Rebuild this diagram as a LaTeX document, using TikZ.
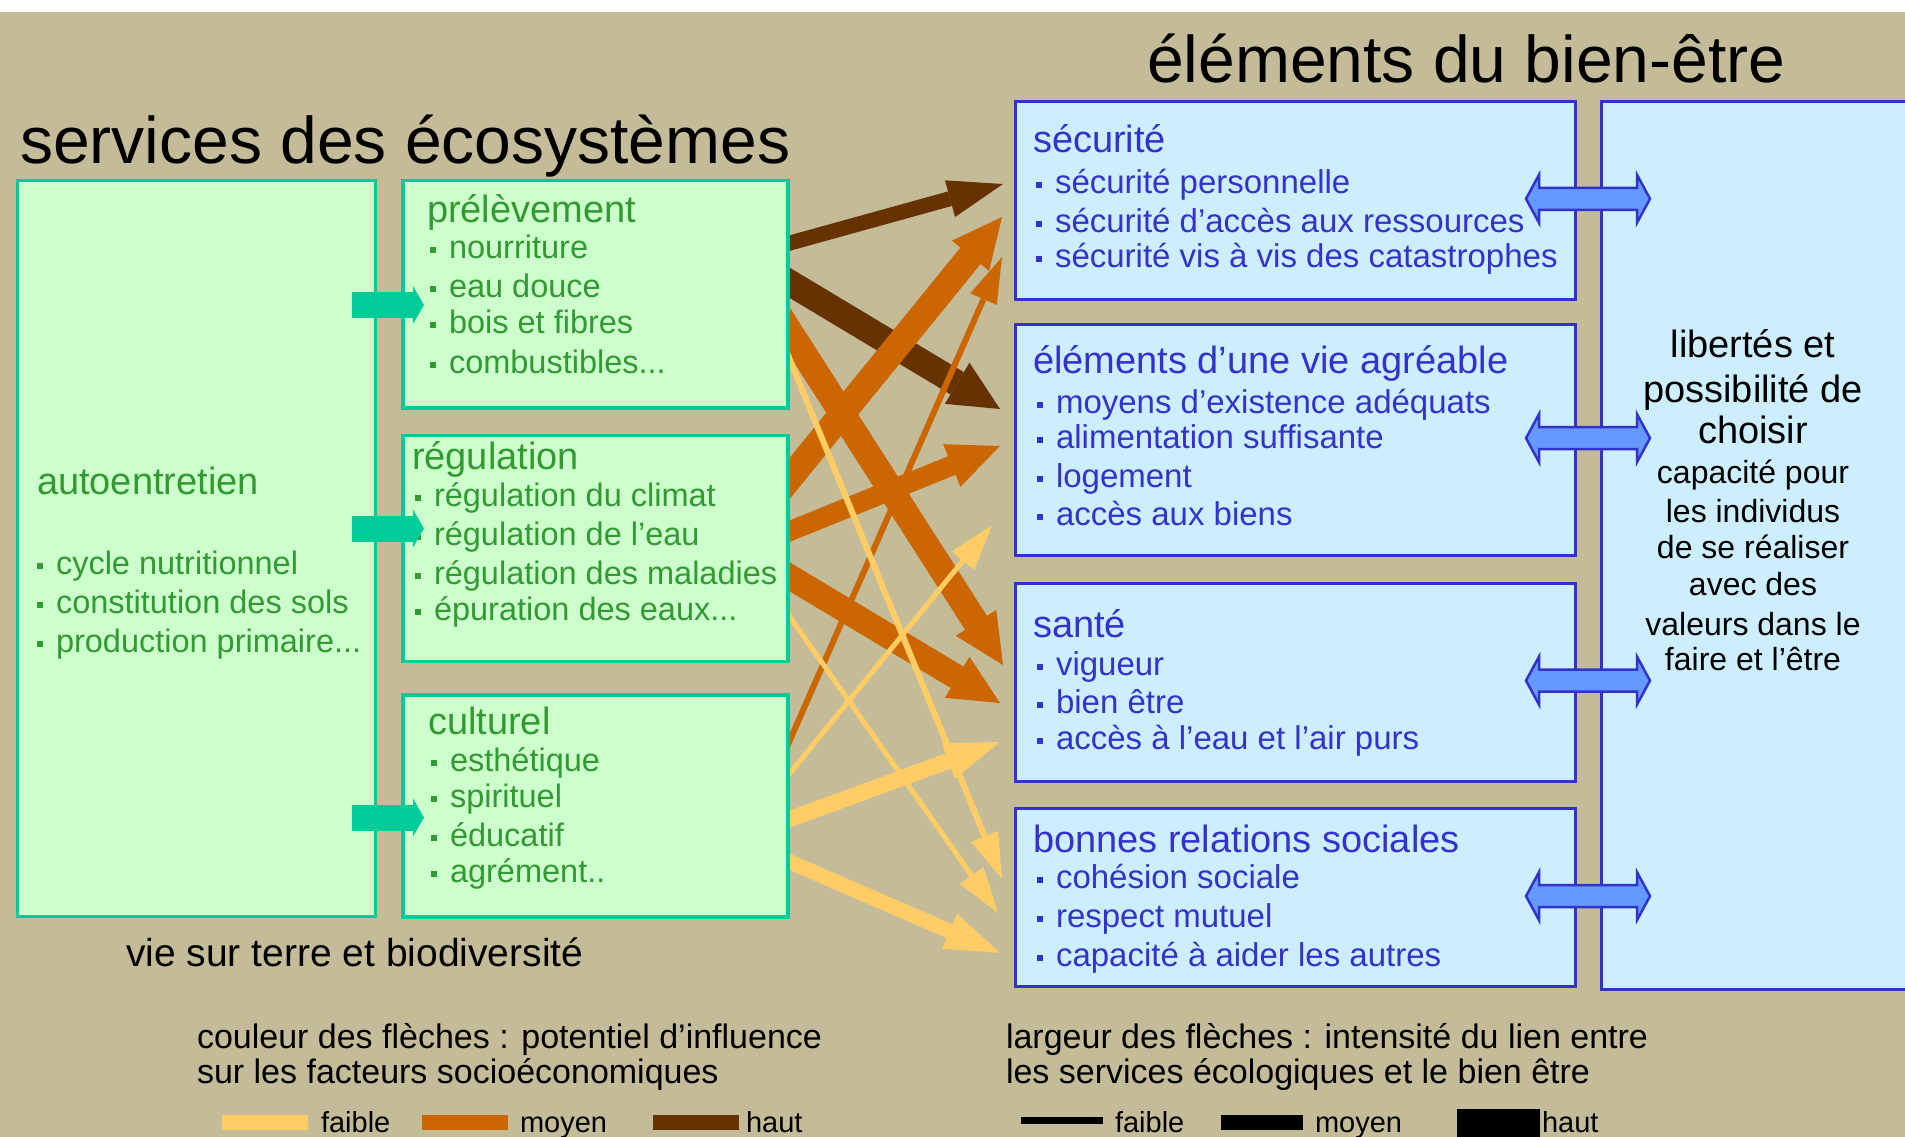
\documentclass[tikz,border=0pt]{standalone}
\usepackage{fontspec}
\setmainfont{Liberation Sans}
\usetikzlibrary{arrows.meta,calc}
\definecolor{bgtan}{HTML}{C4BC98}
\definecolor{gfill}{HTML}{CCFFCC}
\definecolor{tealb}{HTML}{00CC99}
\definecolor{gtext}{HTML}{339933}
\definecolor{bfill}{HTML}{CCEEFF}
\definecolor{bline}{HTML}{3333CC}
\definecolor{darrow}{HTML}{6699FF}
\definecolor{cdark}{HTML}{663300}
\definecolor{cmid}{HTML}{CC6600}
\definecolor{clight}{HTML}{FFCC66}
\newcommand\itm[1]{\llap{\rule[5pt]{6pt}{6pt}\hspace{13pt}}#1}
\tikzset{
  gbox/.style={draw=tealb, fill=gfill, line width=3.5pt, inner sep=0pt, outer sep=0pt, anchor=north west},
  bbox/.style={draw=bline, fill=bfill, line width=3pt, inner sep=0pt, outer sep=0pt, anchor=north west},
  txt/.style={inner sep=0pt, outer sep=0pt, anchor=base west},
  bigtitle/.style={txt, font=\fontsize{66}{76}\selectfont},
  gtitle/.style={txt, text=gtext, font=\fontsize{38}{44}\selectfont},
  gitem/.style={txt, text=gtext, font=\fontsize{32.5}{38}\selectfont},
  btitle/.style={txt, text=bline, font=\fontsize{38}{44}\selectfont},
  bitem/.style={txt, text=bline, font=\fontsize{33}{38}\selectfont},
  rbig/.style={inner sep=0pt, anchor=base, font=\fontsize{38}{44}\selectfont},
  rsmall/.style={inner sep=0pt, anchor=base, font=\fontsize{32}{38}\selectfont},
  legtxt/.style={txt, font=\fontsize{34}{40}\selectfont},
  leglab/.style={txt, font=\fontsize{29}{34}\selectfont},
  flow/.style={line cap=butt, line join=miter},
  thickarr/.style={flow, line width=26pt, -{Triangle[width=48pt,length=50pt,line width=0pt]}},
  medarr/.style={flow, line width=15pt, -{Triangle[width=38pt,length=55pt,line width=0pt]}},
  thinarr/.style={flow, line width=6pt, -{Triangle[width=29pt,length=46pt,line width=0pt]}},
  tarr/.style={draw=tealb, line cap=butt, line width=26pt, -{Triangle[width=38pt,length=11pt,line width=0pt]}},
  dbl/.style={draw=bline, fill=darrow, line width=2.5pt, line join=miter}
}
\begin{document}
\begin{tikzpicture}[x=1pt,y=-1pt]
\useasboundingbox (0,0) rectangle (1905,1137);
\clip (0,0) rectangle (1905,1137);
\fill[white] (0,0) rectangle (1905,12);
\fill[bgtan] (0,12) rectangle (1905,1137);

% ---------- flow arrows (drawn first, boxes cover their tails)
\coordinate (sA) at (790,243); \coordinate (tA) at (1003,184);
\coordinate (sB) at (790,283); \coordinate (tB) at (1000,409);
\coordinate (sC) at (790,478); \coordinate (tC) at (1002,217);
\coordinate (sD) at (790,740); \coordinate (tD) at (1002,257);
\coordinate (sE) at (790,332); \coordinate (tE) at (1003,665);
\coordinate (sF) at (790,531); \coordinate (tF) at (1000,446);
\coordinate (sG) at (790,577); \coordinate (tG) at (1000,703);
\coordinate (sH) at (790,360); \coordinate (tH) at (1002,879);
\coordinate (sI) at (790,617); \coordinate (tI) at (998,913);
\coordinate (sJ) at (790,773); \coordinate (tJ) at (992,525);
\coordinate (sK) at (790,819); \coordinate (tK) at (1000,742);
\coordinate (sL) at (790,862); \coordinate (tL) at (1000,953);

\draw[medarr, draw=cdark, fill=cdark] ($(sA)!-40pt!(tA)$) -- (tA);
\draw[thickarr, draw=cdark] ($(sB)!-40pt!(tB)$) -- (tB);
\draw[thickarr, draw=cmid] ($(sE)!-40pt!(tE)$) -- (tE);
\draw[thickarr, draw=cmid] ($(sC)!-40pt!(tC)$) -- (tC);
\draw[flow, draw=cmid, line width=20pt, -{Triangle[width=46pt,length=52pt,line width=0pt]}] ($(sF)!-40pt!(tF)$) -- (tF);
\draw[thickarr, draw=cmid, line width=25pt] ($(sG)!-40pt!(tG)$) -- (tG);
\draw[thinarr, draw=cmid] ($(sD)!-40pt!(tD)$) -- (tD);
\draw[thinarr, draw=clight] ($(sH)!-40pt!(tH)$) -- (tH);
\draw[thinarr, draw=clight, line width=5pt] ($(sI)!-40pt!(tI)$) -- (tI);
\draw[thinarr, draw=clight, line width=5pt] ($(sJ)!-40pt!(tJ)$) -- (tJ);
\draw[medarr, draw=clight, line width=16pt] ($(sK)!-40pt!(tK)$) -- (tK);
\draw[medarr, draw=clight] ($(sL)!-40pt!(tL)$) -- (tL);

% ---------- titles
\node[bigtitle] (tserv) at (20,163) {services des écosystèmes};
\node[bigtitle] (telem) at (1147,83) {éléments du bien-être};

% ---------- ecosystem service boxes
\node[gbox, minimum width=358pt, minimum height=736pt] (auto) at (17.6,180.5) {};
\node[gbox, minimum width=385pt, minimum height=227.5pt] (prel) at (403,180.5) {};
\node[gbox, minimum width=385pt, minimum height=226pt] (regu) at (403,435.4) {};
\node[gbox, minimum width=385pt, minimum height=221.8pt] (cult) at (403,695) {};

\node[gtitle] (autot) at (37,494) {autoentretien};
\node[gitem] (auto1) at (56,574) {\itm{cycle nutritionnel}};
\node[gitem] (auto2) at (56,613) {\itm{constitution des sols}};
\node[gitem] (auto3) at (56,652) {\itm{production primaire...}};

\node[gtitle] (prelt) at (427,222) {prélèvement};
\node[gitem] (prel1) at (449,258) {\itm{nourriture}};
\node[gitem] (prel2) at (449,297) {\itm{eau douce}};
\node[gitem] (prel3) at (449,333) {\itm{bois et fibres}};
\node[gitem] (prel4) at (449,373) {\itm{combustibles...}};

\node[gtitle] (regut) at (412,469) {régulation};
\node[gitem] (regu1) at (434,506) {\itm{régulation du climat}};
\node[gitem] (regu2) at (434,545) {\itm{régulation de l'eau}};
\node[gitem] (regu3) at (434,584) {\itm{régulation des maladies}};
\node[gitem] (regu4) at (434,620) {\itm{épuration des eaux...}};

\node[gtitle] (cultt) at (428,734) {culturel};
\node[gitem] (cult1) at (450,771) {\itm{esthétique}};
\node[gitem] (cult2) at (450,807) {\itm{spirituel}};
\node[gitem] (cult3) at (450,846) {\itm{éducatif}};
\node[gitem] (cult4) at (450,882) {\itm{agrément..}};

\node[txt, font=\fontsize{39}{45}\selectfont] (vie) at (126,966) {vie sur terre et biodiversité};

% teal arrows
\coordinate (ta1) at (352,305);   \coordinate (tb1) at (424,305);
\coordinate (ta2) at (352,528.5); \coordinate (tb2) at (424,528.5);
\coordinate (ta3) at (352,817.5); \coordinate (tb3) at (424,817.5);
\draw[tarr] (ta1) -- (tb1);
\draw[tarr] (ta2) -- (tb2);
\draw[tarr] (ta3) -- (tb3);

% ---------- well-being boxes
\node[bbox, minimum width=400pt, minimum height=888.2pt] (lib) at (1601.3,101.3) {};
\node[bbox, minimum width=560.5pt, minimum height=198pt] (sec) at (1015,101.3) {};
\node[bbox, minimum width=560.5pt, minimum height=231.3pt] (elem) at (1015,324) {};
\node[bbox, minimum width=560.5pt, minimum height=198.2pt] (sante) at (1015,583) {};
\node[bbox, minimum width=560.5pt, minimum height=177.8pt] (bonn) at (1015,808.7) {};

\node[btitle] (sect) at (1033,153) {sécurité};
\node[bitem] (sec1) at (1055,193) {\itm{sécurité personnelle}};
\node[bitem] (sec2) at (1055,232) {\itm{sécurité d'accès aux ressources}};
\node[bitem] (sec3) at (1055,267) {\itm{sécurité vis à vis des catastrophes}};

\node[btitle] (elemt) at (1033,373) {éléments d'une vie agréable};
\node[bitem] (elem1) at (1056,413) {\itm{moyens d'existence adéquats}};
\node[bitem] (elem2) at (1056,448) {\itm{alimentation suffisante}};
\node[bitem] (elem3) at (1056,487) {\itm{logement}};
\node[bitem] (elem4) at (1056,525) {\itm{accès aux biens}};

\node[btitle] (santet) at (1033,637) {santé};
\node[bitem] (sante1) at (1056,675) {\itm{vigueur}};
\node[bitem] (sante2) at (1056,713) {\itm{bien être}};
\node[bitem] (sante3) at (1056,749) {\itm{accès à l'eau et l'air purs}};

\node[btitle] (bonnt) at (1033,852) {bonnes relations sociales};
\node[bitem] (bonn1) at (1056,888) {\itm{cohésion sociale}};
\node[bitem] (bonn2) at (1056,927) {\itm{respect mutuel}};
\node[bitem] (bonn3) at (1056,966) {\itm{capacité à aider les autres}};

\node[rbig] (r1) at (1753,357) {libertés et};
\node[rbig] (r2) at (1753,402) {possibilité de};
\node[rbig] (r3) at (1753,443) {choisir};
\node[rsmall] (r4) at (1753,483) {capacité pour};
\node[rsmall] (r5) at (1753,522) {les individus};
\node[rsmall] (r6) at (1753,558) {de se réaliser};
\node[rsmall] (r7) at (1753,595) {avec des};
\node[rsmall] (r8) at (1753,635) {valeurs dans le};
\node[rsmall] (r9) at (1753,670) {faire et l'être};

% double arrows between boxes and "libertés"
\foreach \b/\n in {sec/d1, elem/d2, sante/d3, bonn/d4}{
  \coordinate (\n) at ($(\b.east)+(12.5,-1.5)$);
  \draw[dbl] (\n) ++(-62,0) -- ++(13,-24) -- ++(0,13) -- ++(98,0) -- ++(0,-13)
     -- ++(13,24) -- ++(-13,24) -- ++(0,-13) -- ++(-98,0) -- ++(0,13) -- cycle;
}

% ---------- legend
\node[legtxt] (lg1) at (197,1048) {couleur des flèches : potentiel d'influence};
\node[legtxt] (lg2) at (197,1083) {sur les facteurs socioéconomiques};
\node[legtxt] (lg3) at (1006,1048) {largeur des flèches : intensité du lien entre};
\node[legtxt] (lg4) at (1006,1083) {les services écologiques et le bien être};

\fill[clight] (222,1115) rectangle (308,1130);
\fill[cmid] (422,1115) rectangle (508,1130);
\fill[cdark] (653,1115) rectangle (739,1130);
\node[leglab] (lc1) at (321,1132) {faible};
\node[leglab] (lc2) at (520,1132) {moyen};
\node[leglab] (lc3) at (746,1132) {haut};

\fill[black] (1021,1117) rectangle (1103,1124);
\fill[black] (1221,1115) rectangle (1303,1130);
\fill[black] (1457,1109) rectangle (1540,1140);
\node[leglab] (lw1) at (1115,1132) {faible};
\node[leglab] (lw2) at (1315,1132) {moyen};
\node[leglab] (lw3) at (1542,1132) {haut};
\end{tikzpicture}
\end{document}
